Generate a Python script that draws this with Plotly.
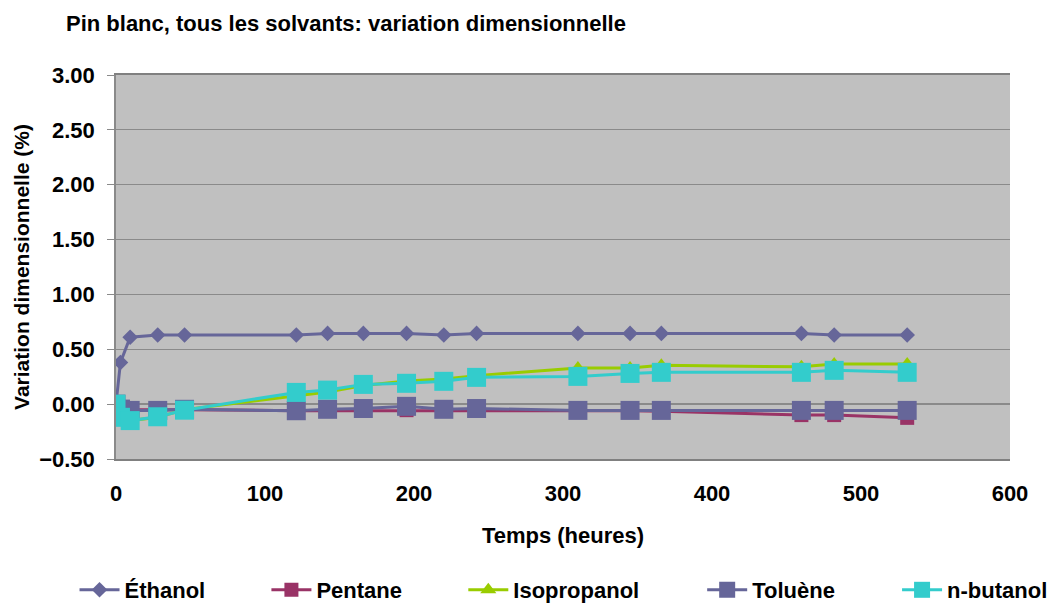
import plotly.graph_objects as go

# ---- data ----
temps = [0, 3, 9.5, 28, 46, 121, 142, 166, 195, 220, 242, 310, 345, 366, 460, 482, 531]
ethanol = [0.00, 0.38, 0.61, 0.63, 0.63, 0.63, 0.645, 0.645, 0.645, 0.63, 0.645,
           0.645, 0.645, 0.645, 0.645, 0.63, 0.63]
pentane = [0.00, -0.04, -0.05, -0.05, -0.05, -0.06, -0.06, -0.06, -0.055, -0.06, -0.055,
           -0.055, -0.06, -0.065, -0.10, -0.10, -0.125]
isopropanol = [0.00, -0.12, -0.15, -0.12, -0.05, 0.08, 0.11, 0.17, 0.21, 0.23, 0.26,
               0.33, 0.33, 0.355, 0.34, 0.365, 0.365]
toluene = [0.00, -0.045, -0.057, -0.057, -0.047, -0.06, -0.047, -0.04, -0.02, -0.047, -0.04,
           -0.057, -0.057, -0.057, -0.057, -0.057, -0.057]
butanol = [0.00, -0.12, -0.15, -0.115, -0.055, 0.107, 0.128, 0.18, 0.19, 0.208, 0.244,
           0.253, 0.28, 0.29, 0.29, 0.308, 0.29]

series_names = ["Éthanol", "Pentane", "Isopropanol", "Toluène", "n-butanol"]
x_ticks = [0, 100, 200, 300, 400, 500, 600]
y_ticks = [-0.5, 0.0, 0.5, 1.0, 1.5, 2.0, 2.5, 3.0]

FONT = "Liberation Sans, Arial, sans-serif"
W, H = 1054, 603
L, R, T, B = 115.5, 44, 75, 144
pw, ph = W - L - R, H - T - B

styles = [
    dict(color="#666699", symbol="diamond", size=12),
    dict(color="#993366", symbol="square", size=14),
    dict(color="#99CC00", symbol="triangle-up", size=14),
    dict(color="#666699", symbol="square", size=19),
    dict(color="#33CCCC", symbol="square", size=19),
]
values = [ethanol, pentane, isopropanol, toluene, butanol]
legend_px = [79, 271, 468, 707, 902]  # left of each legend symbol (px)

fig = go.Figure()
for i, (name, vals, st) in enumerate(zip(series_names, values, styles)):
    fig.add_trace(go.Scatter(
        x=temps, y=vals, name=name, mode="lines+markers",
        line=dict(color=st["color"], width=3),
        marker=dict(color=st["color"], symbol=st["symbol"], size=st["size"],
                    line=dict(width=0)),
        legend=f"legend{i + 2}",
    ))

legend_y = (H - 590 - B) / ph
leg_common = dict(orientation="h", yanchor="middle", y=legend_y, xanchor="left",
                  bgcolor="rgba(0,0,0,0)", font=dict(family=FONT, size=22, color="black",
                                                      weight="bold"),
                  itemwidth=40)
legends = {}
for i, px in enumerate(legend_px):
    legends[f"legend{i + 2}"] = dict(leg_common, x=(px - 5 - L) / pw)

fig.update_layout(
    width=W, height=H,
    margin=dict(l=L, r=R, t=T, b=B, autoexpand=False),
    paper_bgcolor="white",
    plot_bgcolor="#C0C0C0",
    showlegend=True,
    font=dict(family=FONT, size=22, color="black", weight="bold"),
    title=dict(text="Pin blanc, tous les solvants: variation dimensionnelle",
               x=66 / W, xref="container", xanchor="left",
               y=1 - 23 / H, yref="container", yanchor="middle",
               font=dict(family=FONT, size=22, color="black", weight="bold")),
    xaxis=dict(range=[0, 600], tickvals=x_ticks, showgrid=False, zeroline=False,
               showline=True, linecolor="#808080", linewidth=1.5, mirror=True,
               ticks="outside", ticklen=14, tickcolor="rgba(0,0,0,0)",
               tickfont=dict(family=FONT, size=22, color="black", weight="bold"),
               title=dict(text="Temps (heures)", standoff=22,
                          font=dict(family=FONT, size=22, color="black", weight="bold"))),
    yaxis=dict(range=[-0.5, 3.0], tickvals=y_ticks, tickformat=".2f",
               showgrid=True, gridcolor="#8a8a8a", gridwidth=1.2,
               zeroline=True, zerolinecolor="#8a8a8a", zerolinewidth=1.5,
               showline=True, linecolor="#8a8a8a", linewidth=1.5,
               ticks="outside", ticklen=7, tickcolor="#8a8a8a",
               ticklabelstandoff=8,
               tickfont=dict(family=FONT, size=22, color="black", weight="bold"),
               title=dict(text="Variation dimensionnelle (%)", standoff=4,
                          font=dict(family=FONT, size=21, color="black", weight="bold"))),
    **legends,
)

fig.write_html("out.html")
